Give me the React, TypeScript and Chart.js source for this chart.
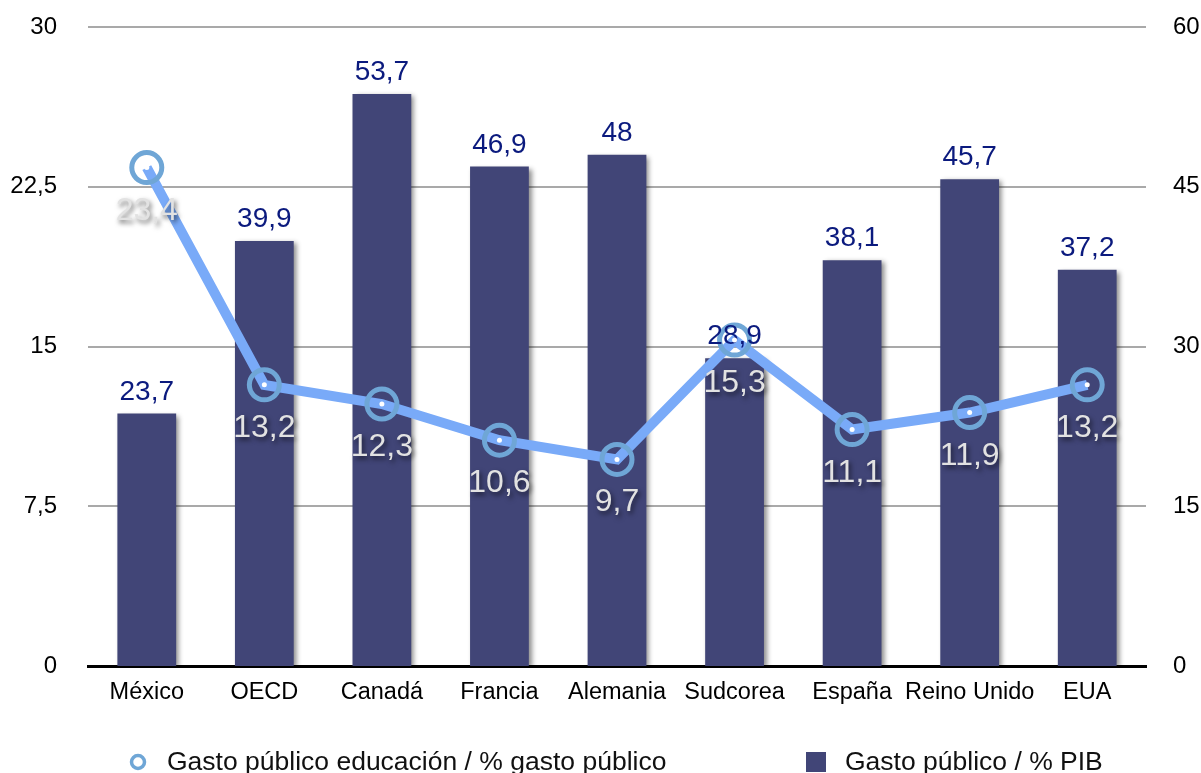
import React, { useEffect, useRef } from 'react';
import { Chart, registerables } from 'chart.js';

Chart.register(...registerables);

const categories = ['México', 'OECD', 'Canadá', 'Francia', 'Alemania', 'Sudcorea', 'España', 'Reino Unido', 'EUA'];
const gastoPublicoPIB = [23.7, 39.9, 53.7, 46.9, 48, 28.9, 38.1, 45.7, 37.2];
const gastoEducacion = [23.4, 13.2, 12.3, 10.6, 9.7, 15.3, 11.1, 11.9, 13.2];
const leftTicks = [0, 7.5, 15, 22.5, 30];
const rightTicks = [0, 15, 30, 45, 60];
const seriesNames = ['Gasto público educación / % gasto público', 'Gasto público / % PIB'];

const FONT = '"Liberation Sans", Arial, Helvetica, sans-serif';
const BAR_COLOR = '#414577';
const LINE_COLOR = '#79aaf8';
const RING_COLOR = '#6fa6d6';
const fmt = (v: number) => String(v).replace('.', ',');

const customPlugin = {
  id: 'custom',
  beforeDatasetDraw(chart: any, args: any) {
    const ctx = chart.ctx;
    ctx.save();
    if (args.index === 1) {
      ctx.shadowColor = 'rgba(0,0,0,0.45)';
      ctx.shadowOffsetX = 3;
      ctx.shadowOffsetY = 2;
      ctx.shadowBlur = 5;
    }
  },
  afterDatasetDraw(chart: any) {
    chart.ctx.restore();
  },
  afterDatasetsDraw(chart: any) {
    const ctx = chart.ctx;
    const lineMeta = chart.getDatasetMeta(0);
    const barMeta = chart.getDatasetMeta(1);
    ctx.save();
    // bar labels
    ctx.font = `28px ${FONT}`;
    ctx.fillStyle = '#0b1a7e';
    ctx.textAlign = 'center';
    ctx.textBaseline = 'alphabetic';
    barMeta.data.forEach((el: any, i: number) => {
      ctx.fillText(fmt(gastoPublicoPIB[i]), el.x, el.y - 14);
    });
    // white center dots
    ctx.fillStyle = '#ffffff';
    lineMeta.data.forEach((el: any) => {
      ctx.beginPath();
      ctx.arc(el.x, el.y, 2.5, 0, Math.PI * 2);
      ctx.fill();
    });
    // line labels
    ctx.font = `32px ${FONT}`;
    ctx.fillStyle = '#e2e2e2';
    ctx.shadowColor = 'rgba(0,0,0,0.6)';
    ctx.shadowOffsetX = 2;
    ctx.shadowOffsetY = 3;
    ctx.shadowBlur = 5;
    lineMeta.data.forEach((el: any, i: number) => {
      ctx.fillText(fmt(gastoEducacion[i]), el.x, el.y + 52);
    });
    ctx.restore();

    // legend
    ctx.save();
    const ly = 762;
    ctx.strokeStyle = RING_COLOR;
    ctx.lineWidth = 3.5;
    ctx.beginPath();
    ctx.arc(138, ly, 6.5, 0, Math.PI * 2);
    ctx.stroke();
    ctx.fillStyle = BAR_COLOR;
    ctx.fillRect(806, ly - 10, 20, 20);
    ctx.fillStyle = '#111111';
    ctx.font = `26.5px ${FONT}`;
    ctx.textAlign = 'left';
    ctx.textBaseline = 'middle';
    ctx.fillText(seriesNames[0], 167, ly + 1);
    ctx.fillText(seriesNames[1], 845, ly + 1);
    ctx.restore();
  },
};

export default function App() {
  const ref = useRef<HTMLCanvasElement>(null);
  useEffect(() => {
    if (!ref.current) return;
    const chart = new Chart(ref.current, {
      type: 'bar',
      data: {
        labels: categories,
        datasets: [
          {
            type: 'line',
            label: seriesNames[0],
            data: gastoEducacion,
            yAxisID: 'y',
            order: 0,
            borderColor: LINE_COLOR,
            borderWidth: 10,
            pointRadius: 15,
            pointBorderWidth: 5,
            pointBorderColor: RING_COLOR,
            pointBackgroundColor: 'rgba(0,0,0,0)',
            tension: 0,
          } as any,
          {
            type: 'bar',
            label: seriesNames[1],
            data: gastoPublicoPIB,
            yAxisID: 'y1',
            order: 1,
            backgroundColor: BAR_COLOR,
            barPercentage: 0.5,
            categoryPercentage: 1.0,
          },
        ],
      },
      options: {
        responsive: false,
        animation: false,
        layout: { padding: { top: 27, bottom: 0, left: 0, right: 0 } },
        plugins: { legend: { display: false }, tooltip: { enabled: false } },
        scales: {
          x: {
            grid: { display: false, drawTicks: false },
            border: { display: true, color: '#000000', width: 3 },
            ticks: { color: '#000', font: { family: FONT, size: 23.5 }, padding: 12, maxRotation: 0, autoSkip: false },
            afterFit: (s: any) => { s.height = 107; },
          },
          y: {
            position: 'left',
            min: 0,
            max: 30,
            afterBuildTicks: (s: any) => { s.ticks = leftTicks.map((v) => ({ value: v })); },
            grid: { color: '#a9a9a9', lineWidth: 2, drawTicks: false },
            border: { display: false },
            ticks: { color: '#000', font: { family: FONT, size: 24 }, padding: 31, callback: (v: any) => fmt(Number(v)) },
            afterFit: (s: any) => { s.width = 88; s.paddingTop = 0; s.paddingBottom = 0; },
          },
          y1: {
            position: 'right',
            min: 0,
            max: 60,
            afterBuildTicks: (s: any) => { s.ticks = rightTicks.map((v) => ({ value: v })); },
            grid: { display: false, drawTicks: false },
            border: { display: false },
            ticks: { color: '#000', font: { family: FONT, size: 24 }, padding: 27, callback: (v: any) => fmt(Number(v)) },
            afterFit: (s: any) => { s.width = 55; s.paddingTop = 0; s.paddingBottom = 0; },
          },
        },
      },
      plugins: [customPlugin],
    });
    return () => chart.destroy();
  }, []);
  return (
    <div style={{ position: 'absolute', left: 0, top: 0, width: 1201, height: 773, background: '#fff' }}>
      <canvas ref={ref} width={1201} height={773} />
    </div>
  );
}
